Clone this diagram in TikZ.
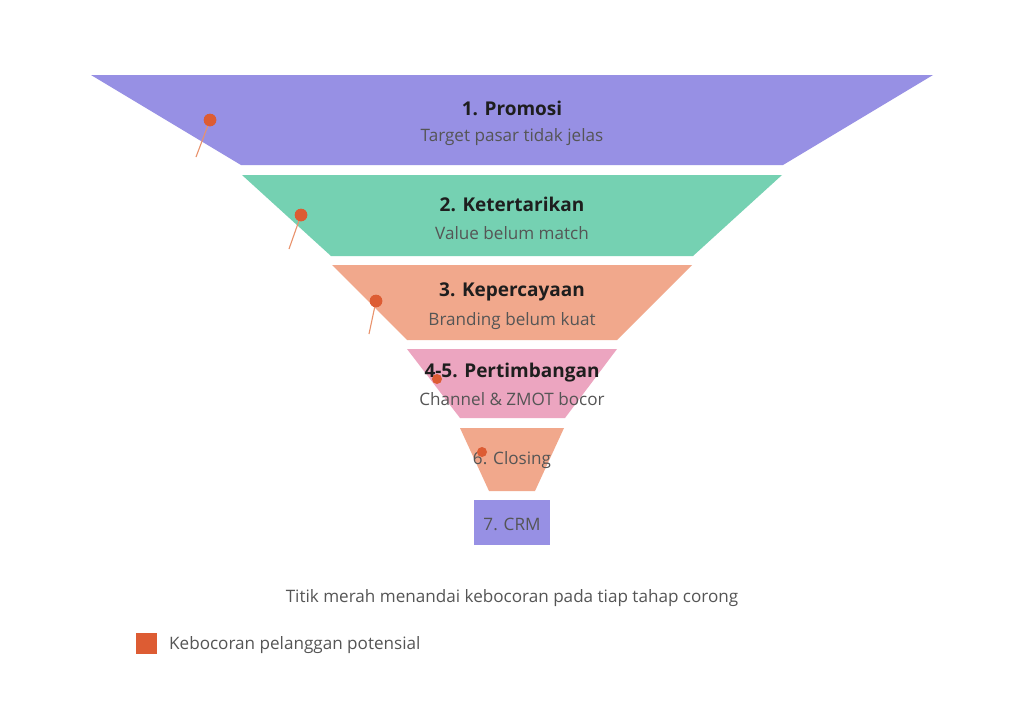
\documentclass[tikz,border=0pt]{standalone}
\usepackage{fontspec}
\setmainfont{Open Sans}
\definecolor{cpurple}{HTML}{9790E4}
\definecolor{cgreen}{HTML}{75D1B2}
\definecolor{csalmon}{HTML}{F1A88C}
\definecolor{cpink}{HTML}{ECA5C0}
\definecolor{cdot}{HTML}{DD5C33}
\definecolor{cline}{HTML}{E9926C}
\definecolor{ctitle}{HTML}{1E1E1E}
\definecolor{csub}{HTML}{555555}
\tikzset{
  ttl/.style={text=ctitle, font=\fontsize{19}{22}\selectfont\bfseries, inner sep=0pt},
  sub/.style={text=csub, font=\fontsize{17.1}{20}\selectfont, inner sep=0pt},
  leakdot/.style={circle, fill=cdot, inner sep=0pt, minimum size=12.5pt},
  leakline/.style={draw=cline, line width=1.1pt},
}
\begin{document}
\begin{tikzpicture}[x=1pt,y=-1pt]
\useasboundingbox[fill=white] (0,0) rectangle (1024,723);
% funnel stages
\fill[cpurple] (91,75) -- (933,75) -- (783,165) -- (241,165) -- cycle;
\fill[cgreen] (242,175) -- (782,175) -- (693,256) -- (331,256) -- cycle;
\fill[csalmon] (332,265) -- (692,265) -- (617,340) -- (407,340) -- cycle;
\fill[cpink] (407,349) -- (617,349) -- (565,418) -- (460,418) -- cycle;
\fill[csalmon] (460,428) -- (564,428) -- (535,491) -- (489,491) -- cycle;
\fill[cpurple] (474,500) rectangle (550,545);
% texts
\node[ttl] (t1) at (512,108) {1. Promosi};
\node[sub] (s1) at (512,137) {Target pasar tidak jelas};
\node[ttl] (t2) at (512,204) {2. Ketertarikan};
\node[sub] (s2) at (512,233) {Value belum match};
\node[ttl] (t3) at (512,292) {3. Kepercayaan};
\node[sub] (s3) at (512,321) {Branding belum kuat};
\node[ttl] (t4) at (512,373) {4-5. Pertimbangan};
\node[sub] (s4) at (512,399) {Channel \& ZMOT bocor};
\node[sub] (s5) at (512,460) {6. Closing};
\node[sub] (s6) at (512,524) {7. CRM};
% leak markers
\coordinate (e1) at (196,157);
\coordinate (e2) at (289,249);
\coordinate (e3) at (369,334);
\node[leakdot] (d1) at (210,120) {};
\node[leakdot] (d2) at (301,215) {};
\node[leakdot] (d3) at (376,301) {};
\draw[leakline] (d1.center) -- (e1);
\draw[leakline] (d2.center) -- (e2);
\draw[leakline] (d3.center) -- (e3);
\node[leakdot] (d1b) at (210,120) {};
\node[leakdot] (d2b) at (301,215) {};
\node[leakdot] (d3b) at (376,301) {};
\node[leakdot, minimum size=10pt] (d4) at (437,379) {};
\node[leakdot, minimum size=10pt] (d5) at (482,452) {};
% caption and legend
\node[sub] (cap) at (512,598) {Titik merah menandai kebocoran pada tiap tahap corong};
\node[fill=cdot, minimum size=21pt, inner sep=0pt] (lg) at (146.5,643) {};
\node[sub, anchor=west] (lgt) at (169,645) {Kebocoran pelanggan potensial};
\end{tikzpicture}
\end{document}
